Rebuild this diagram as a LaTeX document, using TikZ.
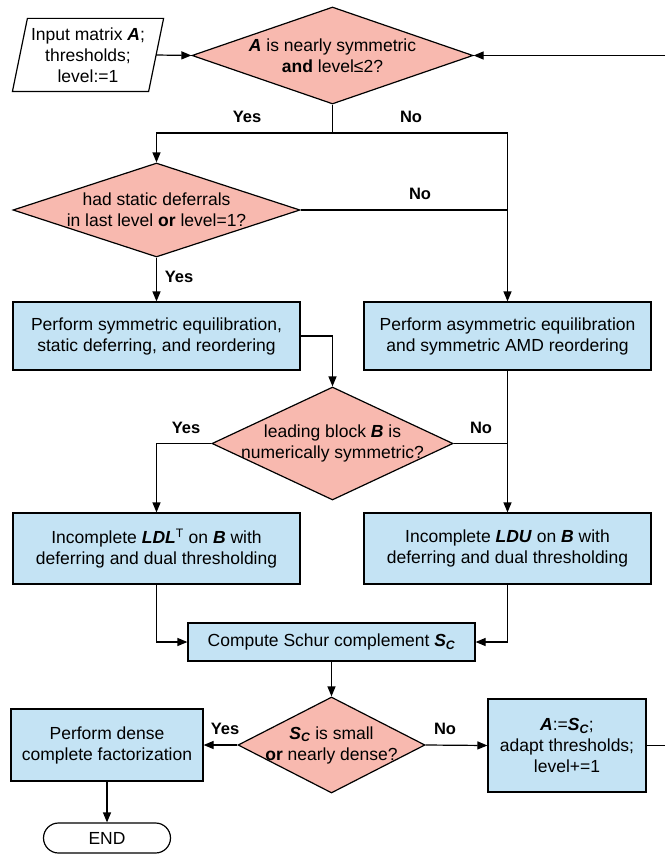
\documentclass[tikz,border=0pt]{standalone}
\usepackage{fontspec}
\setmainfont{Liberation Sans}
\usetikzlibrary{shapes.geometric,arrows.meta}
\definecolor{dfill}{HTML}{F8B9AF}
\definecolor{bfill}{HTML}{C4E3F4}
\newcommand{\bi}[1]{\textbf{\textit{#1}}}
\begin{document}
\begin{tikzpicture}[x=1pt,y=-1pt, line width=1.2pt, font=\fontsize{17.5}{21}\selectfont,
 box/.style={draw, fill=bfill, inner sep=0pt, align=center, minimum width=287pt, minimum height=68pt},
 dia/.style={draw, fill=dfill, diamond, inner sep=0pt},
 txt/.style={align=center, inner sep=0pt},
 lab/.style={font=\fontsize{16.5}{20}\selectfont\bfseries, inner sep=0pt},
 arr/.style={-{Triangle[length=10pt,width=8pt]}}]
\useasboundingbox (0,0) rectangle (665,856);

% input
\node[txt, minimum width=135pt, minimum height=72pt] (in) at (88,55) {Input matrix \bi{A};\\thresholds;\\level:=1};
\draw ([xshift=-7.5pt]in.south west) -- ([xshift=7.5pt]in.north west) -- ([xshift=7.5pt]in.north east) -- ([xshift=-7.5pt]in.south east) -- cycle;

% diamonds
\node[dia, minimum width=281pt, minimum height=97pt] (d1) at (332.5,55.5) {};
\node[txt] (t1) at (d1) {\bi{A} is nearly symmetric\\\textbf{and} level≤2?};
\node[dia, minimum width=287pt, minimum height=94pt] (d2) at (156.5,210) {};
\node[txt] (t2) at (d2) {had static deferrals\\in last level \textbf{or} level=1?};
\node[dia, minimum width=241pt, minimum height=113pt] (d3) at (332.5,443.5) {};
\node[txt] (t3) at (d3) {leading block \bi{B} is\\numerically symmetric?};
\node[dia, minimum width=187pt, minimum height=96pt] (d4) at (331.5,745) {};
\node[txt] (t4) at (d4) {\bi{S\textsubscript{C}} is small\\\textbf{or} nearly dense?};

% boxes
\node[box] (b1) at (156.5,336) {Perform symmetric equilibration,\\static deferring, and reordering};
\node[box] (b2) at (507.5,336) {Perform asymmetric equilibration\\and symmetric AMD reordering};
\node[box, minimum height=71pt] (b3) at (156.5,548.5) {Incomplete \bi{LDL}\textsuperscript{T} on \bi{B} with\\deferring and dual thresholding};
\node[box, minimum height=71pt] (b4) at (507.5,548.5) {Incomplete \bi{LDU} on \bi{B} with\\deferring and dual thresholding};
\node[box, minimum height=38pt] (b5) at (331.5,642) {Compute Schur complement \bi{S\textsubscript{C}}};
\node[box, minimum width=192pt, minimum height=72pt] (b6) at (107,745) {Perform dense\\complete factorization};
\node[box, minimum width=158pt, minimum height=93pt] (b7) at (567,745.5) {\bi{A}:=\bi{S\textsubscript{C}};\\adapt thresholds;\\level+=1};
\node[draw, rounded corners=15pt, minimum width=127pt, minimum height=30pt, inner sep=0pt] (end) at (107,838) {END};

% labels
\node[lab] (y1) at (247,117) {Yes};
\node[lab] (n1) at (411,117) {No};
\node[lab] (n2) at (420,194) {No};
\node[lab] (y2) at (179,277) {Yes};
\node[lab] (y3) at (186,428) {Yes};
\node[lab] (n3) at (481,428) {No};
\node[lab] (y4) at (225,729) {Yes};
\node[lab] (n4) at (445,729) {No};

% coordinates
\coordinate (rin) at (665,55.5);
\coordinate (rout) at (665,745.5);
\coordinate (j1) at (332.5,133);

% connectors
\draw[arr] (in.east) -- (d1.west);
\draw[arr] (rin) -- (d1.east);
\draw (d1.south) -- (j1);
\draw[arr] (j1) -| (d2.north);
\draw[arr] (j1) -| (b2.north);
\draw (d2.east) -- (d2.east -| b2.north);
\draw[arr] (d2.south) -- (b1.north);
\draw[arr] (b1.east) -| (d3.north);
\draw[arr] (d3.west) -| (b3.north);
\draw[arr] (b2.south) -- (b4.north);
\draw (d3.east) -- (d3.east -| b4.north);
\draw[arr] (b3.south) |- (b5.west);
\draw[arr] (b4.south) |- (b5.east);
\draw[arr] (b5.south) -- (d4.north);
\draw[arr] (d4.west) -- (b6.east);
\draw[arr] (d4.east) -- (b7.west);
\draw[arr] (b6.south) -- (end.north);
\draw (b7.east) -- (rout);
\end{tikzpicture}
\end{document}
